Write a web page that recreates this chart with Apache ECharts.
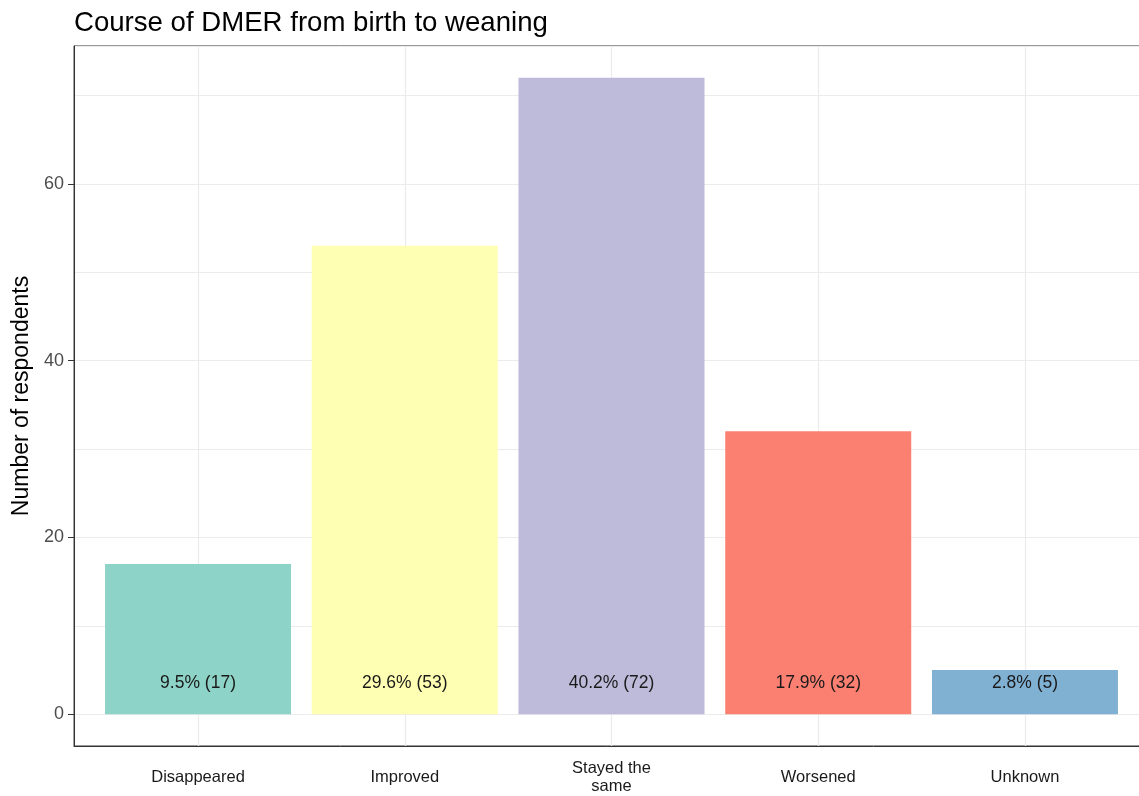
<!DOCTYPE html>
<html>
<head>
<meta charset="utf-8">
<script src="https://cdn.jsdelivr.net/npm/echarts@6/dist/echarts.min.js"></script>
<style>
html,body{margin:0;padding:0;background:#fff;}
#chart{width:1139px;height:796px;}
</style>
</head>
<body>
<div id="chart"></div>
<script>
const categories = ['Disappeared', 'Improved', 'Stayed the\nsame', 'Worsened', 'Unknown'];
const counts = [17, 53, 72, 32, 5];
const percents = [9.5, 29.6, 40.2, 17.9, 2.8];
const barColors = ['#8DD3C7', '#FFFFB3', '#BEBADA', '#FB8072', '#80B1D3'];
const yTicks = [0, 20, 40, 60];

const FONT = "'Liberation Sans', Arial, sans-serif";
const chart = echarts.init(document.getElementById('chart'), null, {renderer: 'canvas'});

const seriesData = categories.map((c, i) => ({
  value: [i + 1, counts[i]],
  name: c,
  itemStyle: {color: barColors[i]}
}));

chart.setOption({
  animation: false,
  backgroundColor: '#ffffff',
  title: {
    text: 'Course of DMER from birth to weaning',
    left: 69,
    top: 4,
    textStyle: {fontFamily: FONT, fontSize: 27.6, fontWeight: 'normal', color: '#000'}
  },
  grid: {
    left: 74, width: 1075, top: 46, bottom: 50,
    outerBoundsMode: 'none',
    containLabel: false,
    show: true, borderColor: '#333333', borderWidth: 1, backgroundColor: '#ffffff'
  },
  xAxis: {
    type: 'value',
    min: 0.4, max: 5.6, splitNumber: 5,
    axisLine: {show: true, onZero: false, lineStyle: {color: '#333333', width: 1}},
    axisTick: {show: false},
    splitLine: {show: true, lineStyle: {color: '#ebebeb', width: 1.2}},
    axisLabel: {
      showMinLabel: false, showMaxLabel: false,
      margin: 31,
      verticalAlign: 'middle',
      lineHeight: 18,
      fontFamily: FONT, fontSize: 16.5, color: '#1a1a1a',
      formatter: v => (Number.isInteger(v) && v >= 1 && v <= categories.length) ? categories[v - 1] : ''
    }
  },
  yAxis: [{
    type: 'value',
    min: -3.6, max: 75.6, splitNumber: 8,
    axisLine: {show: false},
    axisTick: {show: false},
    axisLabel: {show: false},
    splitLine: {show: true, lineStyle: {color: '#ebebeb', width: 1.2}}
  }, {
    type: 'value',
    position: 'left',
    min: -3.6, max: 75.6,
    name: 'Number of respondents',
    nameLocation: 'middle',
    nameGap: 34,
    nameTextStyle: {fontFamily: FONT, fontSize: 23, color: '#000'},
    axisLine: {show: true, lineStyle: {color: '#333333', width: 1}},
    axisTick: {show: true, length: 6, customValues: yTicks, lineStyle: {color: '#333333'}},
    axisLabel: {
      customValues: yTicks,
      margin: 10,
      fontFamily: FONT, fontSize: 18, color: '#4d4d4d',
      formatter: v => (yTicks.indexOf(v) >= 0 ? String(v) : '')
    },
    splitLine: {show: false}
  }],
  series: [{
    type: 'bar',
    yAxisIndex: 0,
    data: seriesData,
    barWidth: 186,
    label: {
      show: true,
      position: 'insideBottom',
      distance: 22,
      fontFamily: FONT, fontSize: 17.5, color: '#1a1a1a',
      formatter: p => percents[p.dataIndex] + '% (' + counts[p.dataIndex] + ')'
    }
  }]
});
</script>
</body>
</html>
